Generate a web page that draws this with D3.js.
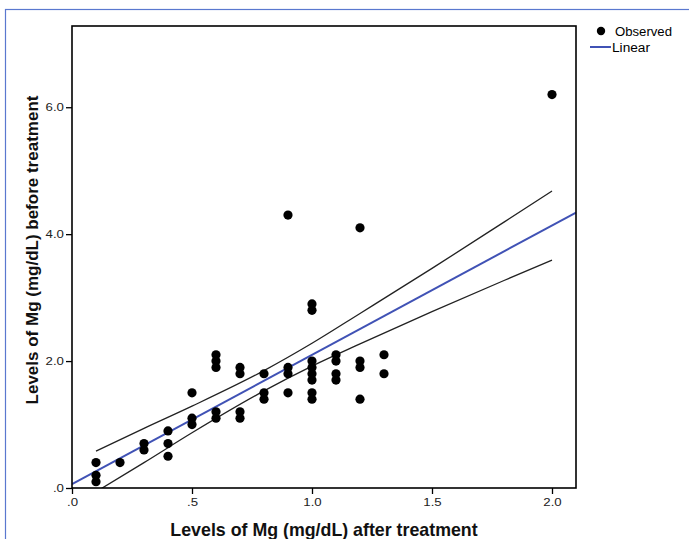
<html>
<head>
<script src="https://d3js.org/d3.v7.min.js"></script>
</head>
<style>
body { margin:0; background:#fff; }
text { font-family: "Liberation Sans", Arial, sans-serif; }
</style>
<body>
<script>

// observed values (after treatment, before treatment)
var after  = [0.1,0.1,0.1, 0.2, 0.3,0.3, 0.4,0.4,0.4, 0.5,0.5,0.5,
              0.6,0.6,0.6,0.6,0.6, 0.7,0.7,0.7,0.7, 0.8,0.8,0.8,
              0.9,0.9,0.9,0.9, 1.0,1.0,1.0,1.0,1.0,1.0,1.0,1.0,
              1.1,1.1,1.1,1.1, 1.2,1.2,1.2,1.2, 1.3,1.3, 2.0];
var before = [0.4,0.2,0.1, 0.4, 0.7,0.6, 0.9,0.7,0.5, 1.5,1.1,1.0,
              2.1,2.0,1.9,1.2,1.1, 1.9,1.8,1.2,1.1, 1.8,1.5,1.4,
              4.3,1.9,1.8,1.5, 2.9,2.8,2.0,1.9,1.8,1.7,1.5,1.4,
              2.1,2.0,1.8,1.7, 4.1,2.0,1.9,1.4, 2.1,1.8, 6.2];

// linear fit and its confidence band
var fitX = [0, 2.1];
var fitY = [0.06, 4.34];
var ciX     = [0.1, 0.3, 0.5, 0.8, 1.0, 1.2, 1.5, 1.8, 2.0];
var ciUpper = [0.58, 0.94, 1.29, 1.85, 2.28, 2.75, 3.46, 4.19, 4.68];
var ciLower = [-0.06, 0.40, 0.87, 1.53, 1.92, 2.27, 2.78, 3.27, 3.59];

var xTicks = [0, 0.5, 1.0, 1.5, 2.0];
var yTicks = [0, 2.0, 4.0, 6.0];

var width = 689, height = 539;
var box = {left:72, right:576, top:26, bottom:488};

var svg = d3.select("body").append("svg")
    .attr("width", width)
    .attr("height", height);

// outer frame
svg.append("rect")
    .attr("x", 5.5).attr("y", 9.5)
    .attr("width", 720).attr("height", 560)
    .attr("fill", "none")
    .attr("stroke", "#5a78cf")
    .attr("stroke-width", 1.2);

var x = d3.scaleLinear().domain([0, 2.1]).range([box.left, box.right]);
var y = d3.scaleLinear().domain([0, 7.28]).range([box.bottom, box.top]);

var fmt = function(d) { return d3.format(".1f")(d).replace(/^0/, ""); };

svg.append("defs").append("clipPath").attr("id", "plot")
  .append("rect")
    .attr("x", box.left).attr("y", box.top)
    .attr("width", box.right - box.left).attr("height", box.bottom - box.top);

var plot = svg.append("g").attr("clip-path", "url(#plot)");

var line = d3.line().curve(d3.curveMonotoneX);

plot.append("path")
    .attr("d", line(ciX.map(function(d, i) { return [x(d), y(ciUpper[i])]; })))
    .attr("fill", "none").attr("stroke", "#222").attr("stroke-width", 1.3);
plot.append("path")
    .attr("d", line(ciX.map(function(d, i) { return [x(d), y(ciLower[i])]; })))
    .attr("fill", "none").attr("stroke", "#222").attr("stroke-width", 1.3);
plot.append("path")
    .attr("d", line(fitX.map(function(d, i) { return [x(d), y(fitY[i])]; })))
    .attr("fill", "none").attr("stroke", "#4052b5").attr("stroke-width", 2);

plot.selectAll("circle")
  .data(after)
  .enter().append("circle")
    .attr("cx", function(d) { return x(d); })
    .attr("cy", function(d, i) { return y(before[i]); })
    .attr("r", 4.6)
    .attr("fill", "#000");

// axes
var xAxis = svg.append("g")
    .attr("transform", "translate(0," + box.bottom + ")")
    .call(d3.axisBottom(x).tickValues(xTicks).tickFormat(fmt).tickSize(6).tickPadding(4));
var yAxis = svg.append("g")
    .attr("transform", "translate(" + box.left + ",0)")
    .call(d3.axisLeft(y).tickValues(yTicks).tickFormat(fmt).tickSize(6).tickPadding(1));
[xAxis, yAxis].forEach(function(a) {
  a.select(".domain").remove();
  a.selectAll("line").attr("stroke", "#000").attr("stroke-width", 1.3);
  a.selectAll("text").attr("font-size", 11.5).attr("fill", "#222")
    .attr("transform", "scale(1.15,1)")
    .style("font-family", "'Liberation Sans', Arial, sans-serif");
});

// plot box
svg.append("rect")
    .attr("x", box.left).attr("y", box.top)
    .attr("width", box.right - box.left).attr("height", box.bottom - box.top)
    .attr("fill", "none").attr("stroke", "#000").attr("stroke-width", 1.6);

// titles
svg.append("text")
    .attr("x", 324).attr("y", 536)
    .attr("text-anchor", "middle")
    .attr("font-size", 17.8).attr("font-weight", "bold")
    .attr("fill", "#111")
    .text("Levels of Mg (mg/dL) after treatment");

svg.append("text")
    .attr("transform", "translate(38,250) rotate(-90)")
    .attr("text-anchor", "middle")
    .attr("font-size", 17).attr("font-weight", "bold")
    .attr("fill", "#111")
    .text("Levels of Mg (mg/dL) before treatment");

// legend
var legend = svg.append("g").attr("font-size", 12);
legend.append("circle").attr("cx", 601).attr("cy", 31).attr("r", 4.2).attr("fill", "#000");
legend.append("text").attr("x", 615).attr("y", 35.5)
    .attr("textLength", 57).attr("lengthAdjust", "spacingAndGlyphs")
    .text("Observed");
legend.append("line")
    .attr("x1", 590).attr("x2", 611).attr("y1", 47).attr("y2", 47)
    .attr("stroke", "#4052b5").attr("stroke-width", 2);
legend.append("text").attr("x", 612).attr("y", 51.5)
    .attr("textLength", 38).attr("lengthAdjust", "spacingAndGlyphs")
    .text("Linear");

</script>
</body>
</html>
